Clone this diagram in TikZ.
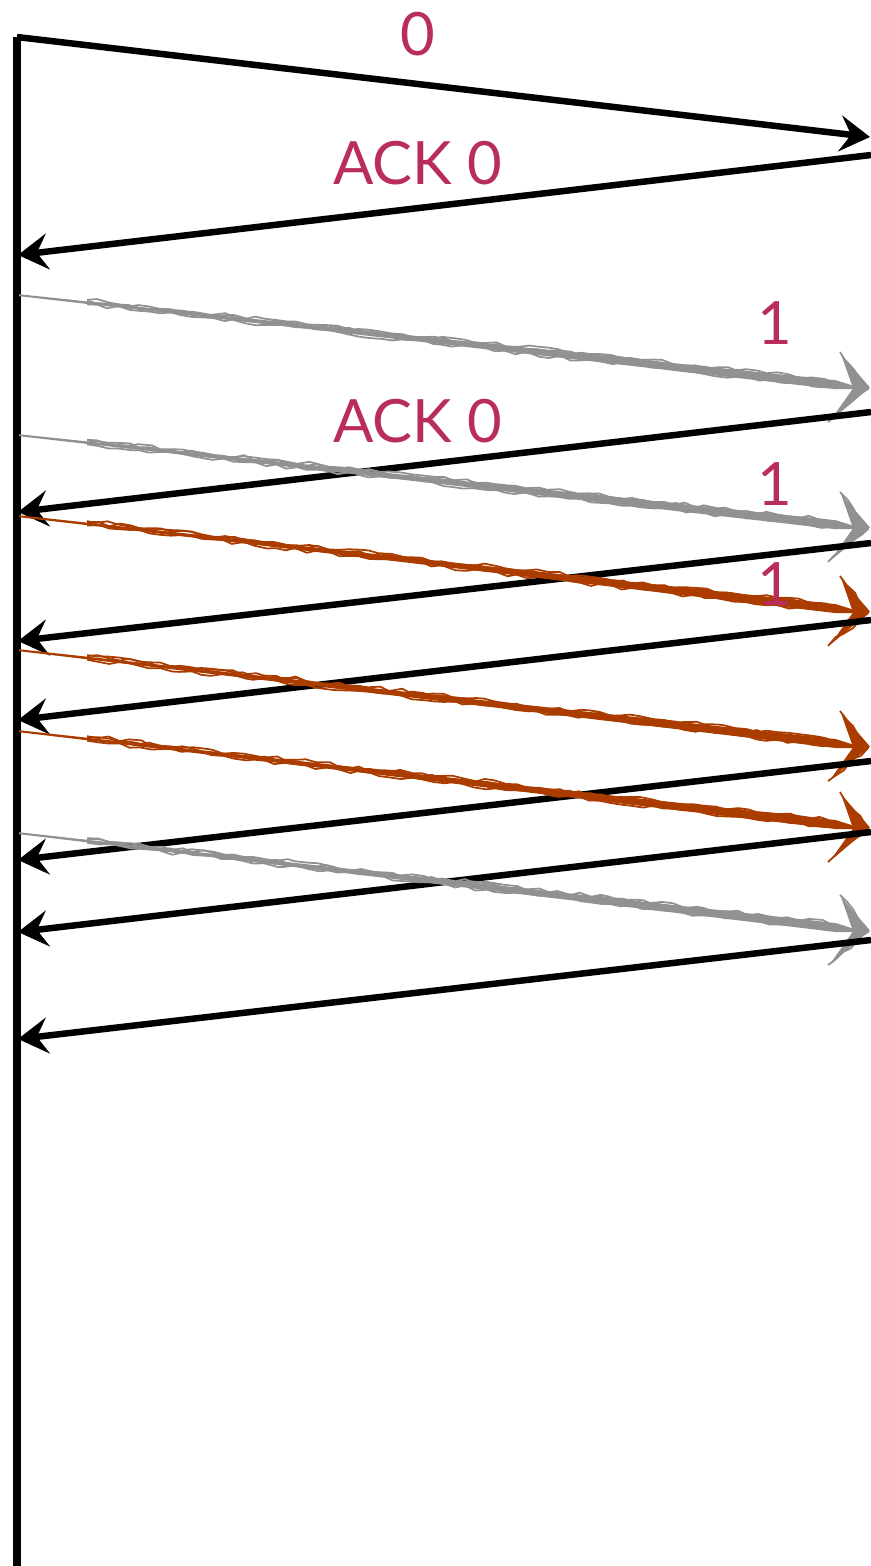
\documentclass[tikz,border=0pt]{standalone}
\usepackage{fontspec}
\setmainfont{Lato}
\usetikzlibrary{arrows.meta,calc,decorations.pathmorphing}
\definecolor{seqpink}{RGB}{184,44,94}
\definecolor{lostgray}{RGB}{145,145,145}
\definecolor{dupbrown}{RGB}{170,60,0}

\tikzset{
	timeline/.style={line width=0.07cm},
	msg/.style={line width=0.065cm,-{Stealth[length=0.3cm,width=0.36cm,inset=0.11cm]}},
	seqlabel/.style={text=seqpink,font=\fontsize{17}{20}\selectfont,inner sep=0pt},
	brushline/.style={line width=0.5pt,decorate,decoration={random steps,segment length=3pt,amplitude=0.6pt}}
}

% hand drawn arrow: #1 colour, #2 start, #3 tip
\newcommand{\brusharrow}[3]{%
	\fill [#1] ($(#2)+(0,0.008)$) -- ($(#2)!0.5!(#3)+(0,0.03)$) -- ($(#2)!0.96!(#3)+(0,0.05)$) -- ($(#3)+(-0.06,0)$) -- ($(#2)!0.96!(#3)+(0,-0.04)$) -- ($(#2)!0.5!(#3)+(0,-0.025)$) -- ($(#2)+(0,-0.012)$) -- cycle;
	\foreach \dy in {0.03,-0.03,0.045}
		\draw [#1][brushline] ($(#2)!0.08!(#3)+(0,\dy*0.6)$) -- ($(#2)!0.95!(#3)+(0,\dy)$);
	\fill [#1] ($(#3)+(-0.29,0.35)$) -- ($(#3)+(0,0.015)$) -- ($(#3)+(-0.16,-0.02)$) -- cycle;
	\fill [#1] ($(#3)+(-0.4,-0.32)$) -- ($(#3)+(0,0.015)$) -- ($(#3)+(-0.16,0.02)$) -- cycle;
	\draw [#1][brushline] ($(#3)+(-0.3,0.37)$) -- ($(#3)+(-0.02,0)$) -- ($(#3)+(-0.42,-0.33)$);
}

\begin{document}
\begin{tikzpicture}[scale=1]
	\useasboundingbox (0,0) rectangle (8.71,-15.66);

	% sender time line
	\coordinate (top) at (0.17,-0.37);
	\coordinate (bot) at (0.17,-15.72);
	\draw [timeline] (bot) -- (top);

	% packet 0 and its ack
	\coordinate (pkt0) at (8.70,-1.37);
	\draw [msg] (top) -- (pkt0);
	\node [seqlabel] (lbl0) at (4.18,-0.34) {0};

	\coordinate (acka) at (8.71,-1.55);
	\coordinate (ackaend) at (0.18,-2.55);
	\draw [msg] (acka) -- (ackaend);
	\node [seqlabel] (lblacka) at (4.18,-1.63) {ACK 0};

	% packet 1, lost
	\coordinate (lossa) at (0.19,-2.95);
	\coordinate (lossatip) at (8.70,-3.89);
	\brusharrow{lostgray}{lossa}{lossatip}
	\node [seqlabel] (lbl1a) at (7.75,-3.23) {1};

	\coordinate (ackb) at (8.71,-4.12);
	\coordinate (ackbend) at (0.18,-5.12);
	\draw [msg] (ackb) -- (ackbend);
	\node [seqlabel] (lblackb) at (4.18,-4.21) {ACK 0};

	\coordinate (lossb) at (0.19,-4.35);
	\coordinate (lossbtip) at (8.70,-5.29);
	\brusharrow{lostgray}{lossb}{lossbtip}
	\node [seqlabel] (lbl1b) at (7.75,-4.84) {1};

	\coordinate (ackc) at (8.71,-5.43);
	\coordinate (ackcend) at (0.18,-6.41);
	\draw [msg] (ackc) -- (ackcend);

	% resent copies
	\coordinate (dupa) at (0.19,-5.16);
	\coordinate (dupatip) at (8.70,-6.13);
	\brusharrow{dupbrown}{dupa}{dupatip}
	\node [seqlabel] (lbl1c) at (7.75,-5.84) {1};

	\coordinate (ackd) at (8.71,-6.2);
	\coordinate (ackdend) at (0.18,-7.2);
	\draw [msg] (ackd) -- (ackdend);

	\coordinate (dupb) at (0.19,-6.5);
	\coordinate (dupbtip) at (8.70,-7.48);
	\brusharrow{dupbrown}{dupb}{dupbtip}

	\coordinate (acke) at (8.71,-7.61);
	\coordinate (ackeend) at (0.18,-8.6);
	\draw [msg] (acke) -- (ackeend);

	\coordinate (dupc) at (0.19,-7.31);
	\coordinate (dupctip) at (8.70,-8.29);
	\brusharrow{dupbrown}{dupc}{dupctip}

	\coordinate (ackf) at (8.71,-8.32);
	\coordinate (ackfend) at (0.18,-9.32);
	\draw [msg] (ackf) -- (ackfend);

	\coordinate (lossc) at (0.19,-8.33);
	\coordinate (lossctip) at (8.70,-9.32);
	\brusharrow{lostgray}{lossc}{lossctip}

	\coordinate (ackg) at (8.71,-9.4);
	\coordinate (ackgend) at (0.18,-10.39);
	\draw [msg] (ackg) -- (ackgend);
\end{tikzpicture}
\end{document}
